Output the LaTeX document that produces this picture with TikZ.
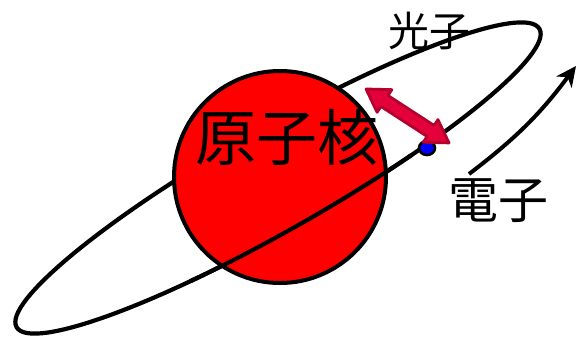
\documentclass[tikz,border=0pt]{standalone}
\usepackage{fontspec}
\newfontfamily\jp{Noto Sans CJK JP}
\usetikzlibrary{arrows.meta,shapes.geometric}
\definecolor{photonred}{HTML}{E4003A}
\definecolor{photonedge}{HTML}{B3002D}
\tikzset{
  orbit/.style={line width=4.2pt, black, line cap=round},
  jptext/.style={font=\jp, inner sep=0pt, text=black},
}
\begin{document}
\begin{tikzpicture}[x=1pt, y=-1pt]
\useasboundingbox (0,0) rectangle (577,339);

% labels outside the nucleus
\node[jptext, font=\jp\fontsize{41}{41}\selectfont] (photon) at (429,31) {光子};
\node[jptext, font=\jp\fontsize{50}{50}\selectfont] (electronlabel) at (498,201) {電子};

% orbit (whole ring, the part behind the nucleus gets covered)
\begin{scope}[shift={(278,178)}, rotate=29.7]
  \draw[orbit] (0pt,0pt) ellipse [x radius=301pt, y radius=51pt];
\end{scope}

% nucleus
\node[circle, draw=black, line width=4pt, fill=red, minimum size=212pt, inner sep=0pt] (nucleus) at (280,177) {};

% front part of the orbit passing over the nucleus
\begin{scope}[shift={(278,178)}, rotate=29.7]
  \draw[orbit] (245:301pt and 51pt) arc[start angle=245, end angle=295, x radius=301pt, y radius=51pt];
\end{scope}

\node[jptext, font=\jp\fontsize{61}{61}\selectfont] (nucleuslabel) at (287,137) {原子核};

% electron
\node[ellipse, draw=black, line width=2.6pt, fill=blue, minimum width=16pt, minimum height=14pt, inner sep=0pt] (electron) at (427,148) {};

% double-headed photon arrow between nucleus and electron
\coordinate (pA) at (366,89);
\coordinate (pB) at (449,143);
\begin{scope}[shift={(pA)}, rotate=-33.0]
  \filldraw[fill=photonred, draw=photonedge, line width=2.8pt, line join=round]
    (0pt,0pt) -- (22pt,13.5pt) -- (22pt,6.5pt) -- (77pt,6.5pt) -- (77pt,13.5pt) -- (99pt,0pt)
    -- (77pt,-13.5pt) -- (77pt,-6.5pt) -- (22pt,-6.5pt) -- (22pt,-13.5pt) -- cycle;
\end{scope}

% outgoing arrow
\coordinate (emitA) at (469,174);
\coordinate (emitB) at (576,66);
\draw[line width=4pt, -{Stealth[length=20pt, width=19pt, inset=6pt]}] (emitA) to[bend right=8] (emitB);
\end{tikzpicture}
\end{document}
